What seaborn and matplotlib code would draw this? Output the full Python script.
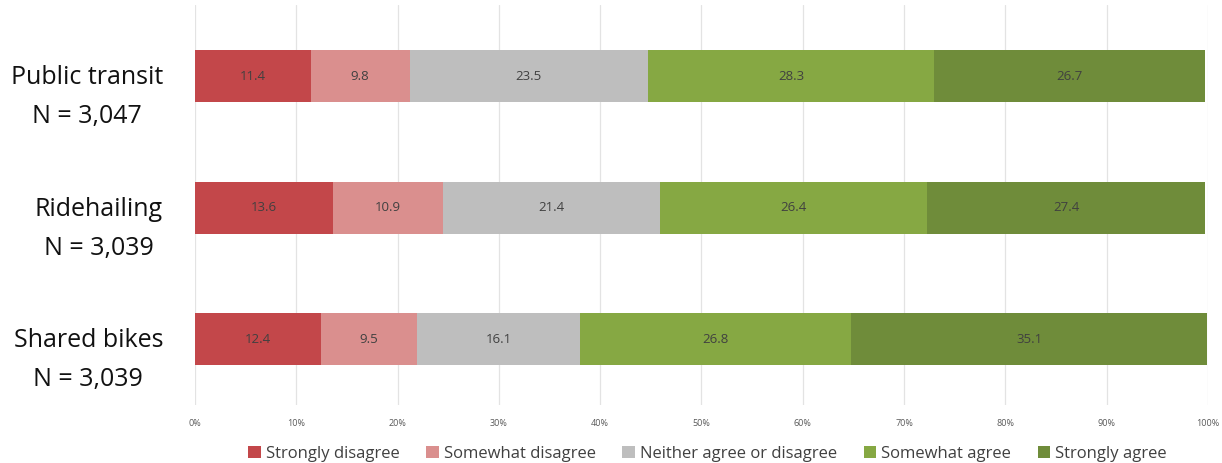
import matplotlib
matplotlib.use("Agg")
import matplotlib.pyplot as plt
from matplotlib.patches import Patch
from matplotlib.transforms import ScaledTranslation
import numpy as np
import pandas as pd
import seaborn as sns

# Survey responses (% of respondents) per shared-mobility mode
modes = ["Public transit\nN = 3,047", "Ridehailing\nN = 3,039", "Shared bikes\nN = 3,039"]
levels = ["Strongly disagree", "Somewhat disagree", "Neither agree or disagree",
          "Somewhat agree", "Strongly agree"]
strongly_disagree = [11.4, 13.6, 12.4]
somewhat_disagree = [9.8, 10.9, 9.5]
neither = [23.5, 21.4, 16.1]
somewhat_agree = [28.3, 26.4, 26.8]
strongly_agree = [26.7, 27.4, 35.1]

colors = ["#C3474A", "#DA8F8E", "#BEBEBE", "#86A843", "#6F8C3A"]

sns.set_theme(style="white")
plt.rcParams["font.family"] = ["Open Sans", "DejaVu Sans"]

series = [strongly_disagree, somewhat_disagree, neither, somewhat_agree, strongly_agree]
vals = np.array(series)
cum = np.cumsum(vals, axis=0)

fig = plt.figure(figsize=(12.22, 4.63), dpi=100)
ax = fig.add_axes([0.1596, 0.1253, 0.8289, 0.8637])

# Stack by drawing cumulative totals from the outermost segment inward
for i in reversed(range(len(levels))):
    df = pd.DataFrame({"mode": modes, "total": cum[i]})
    sns.barplot(data=df, x="total", y="mode", orient="h", color=colors[i],
                saturation=1, width=0.395, ax=ax, edgecolor="none", linewidth=0)

# Segment value labels
for i in range(len(levels)):
    for j in range(len(modes)):
        start = cum[i, j] - vals[i, j]
        ax.text(start + vals[i, j] / 2, j, f"{vals[i, j]:.1f}", ha="center", va="center",
                fontsize=9.5, color="#404040")

ax.set_xlim(0, 100)
ax.set_ylim(2.5, -0.54)
ax.set_xticks(np.arange(0, 101, 10))
ax.set_xticklabels([f"{t}%" for t in range(0, 101, 10)], fontsize=6.5, color="#595959")
ax.xaxis.grid(True, color="#E3E3E3", linewidth=0.9)
ax.set_axisbelow(True)
ax.set_xlabel("")
ax.set_ylabel("")
for s in ax.spines.values():
    s.set_visible(False)
ax.tick_params(axis="x", length=0, pad=10)
ax.tick_params(axis="y", length=0, pad=23)

offset = ScaledTranslation(0, -0.11, fig.dpi_scale_trans)
for lab in ax.get_yticklabels():
    lab.set_fontsize(18)
    lab.set_color("#111111")
    lab.set_multialignment("center")
    lab.set_linespacing(1.75)
    lab.set_transform(lab.get_transform() + offset)

handles = [Patch(facecolor=c, edgecolor="none", label=l) for c, l in zip(colors, levels)]
fig.legend(handles=handles, loc="center", bbox_to_anchor=(0.579, 0.02), ncol=5, frameon=False,
           fontsize=12, handlelength=0.75, handleheight=0.75, handletextpad=0.3,
           columnspacing=1.6, labelcolor="#404040")

fig.savefig("out.png", dpi=100)
